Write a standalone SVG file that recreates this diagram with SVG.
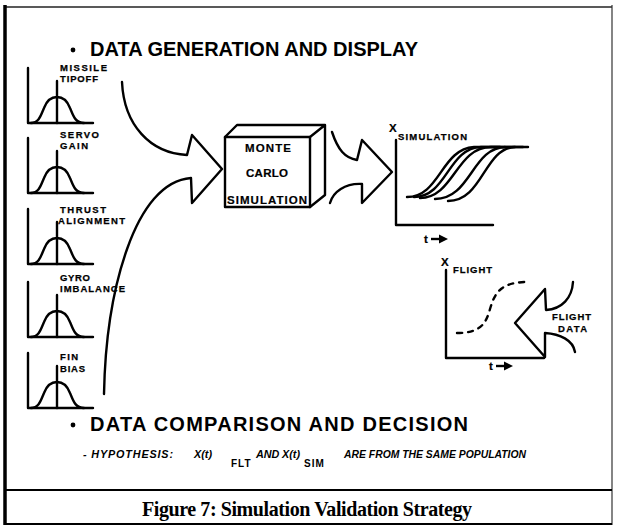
<svg xmlns="http://www.w3.org/2000/svg" xmlns:xlink="http://www.w3.org/1999/xlink" width="617" height="529" viewBox="0 0 617 529">
  <style>
    .ln { fill: none; stroke: #000; stroke-width: 2.4; stroke-linecap: round; stroke-linejoin: round; }
    .head { font-family: "Liberation Sans", Arial, sans-serif; font-weight: bold; font-size: 20px; fill: #000; }
    .lbl { font-family: "Liberation Sans", Arial, sans-serif; font-weight: bold; font-size: 9.5px; fill: #000; stroke: #000; stroke-width: 0.25; }
    .box { font-family: "Liberation Sans", Arial, sans-serif; font-weight: bold; font-size: 11.5px; fill: #000; stroke: #000; stroke-width: 0.2; }
    .hyp { font-family: "Liberation Sans", Arial, sans-serif; font-weight: bold; font-style: italic; font-size: 10.8px; fill: #000; }
    .sub { font-family: "Liberation Sans", Arial, sans-serif; font-weight: bold; font-size: 10px; fill: #000; letter-spacing: 1px; }
    .cap { font-family: "Liberation Serif", "Times New Roman", serif; font-weight: bold; font-size: 20px; fill: #000; }
  </style>
  <defs>
    <!-- probability density sketch: axes, bell curve and mean line (baseline at y=0) -->
    <g id="dist">
      <path class="ln" d="M28,-55 V0 H93"/>
      <path class="ln" d="M31,0 C39,0 41,-8 44,-15 C47,-23 51,-26 57,-26 C63,-26 67,-23 70,-15 C73,-8 75,0 84,0"/>
      <path class="ln" d="M57,-42 V0"/>
    </g>
    <!-- small "t" axis arrow -->
    <g id="tarrow">
      <text x="0" y="4" class="box" font-size="11">t</text>
      <path d="M7,0 H16" stroke="#000" stroke-width="2.4"/>
      <path d="M15,-4.5 L24,0 L15,4.5 Z" fill="#000"/>
    </g>
  </defs>

  <rect width="617" height="529" fill="#fff"/>

  <!-- frame -->
  <g id="frame">
    <path d="M5,7 H612" stroke="#222" stroke-width="1.5"/>
    <path d="M5,5 V525" stroke="#000" stroke-width="3.5"/>
    <path d="M612,5 V525" stroke="#333" stroke-width="1.2"/>
    <path d="M5,490 H612" stroke="#000" stroke-width="2"/>
    <path d="M5,524 H612" stroke="#000" stroke-width="2"/>
  </g>

  <!-- headings -->
  <g id="heading-generation">
    <circle cx="73" cy="50" r="2.4" fill="#000"/>
    <text x="90" y="56" class="head" textLength="328" lengthAdjust="spacing">DATA GENERATION AND DISPLAY</text>
  </g>
  <g id="heading-comparison">
    <circle cx="73" cy="425" r="2.4" fill="#000"/>
    <text x="90" y="431" class="head" textLength="378" lengthAdjust="spacing">DATA COMPARISON AND DECISION</text>
  </g>

  <!-- input distributions -->
  <g id="missile-tipoff">
    <use xlink:href="#dist" transform="translate(0,123)"/>
    <text x="60" y="71" class="lbl" textLength="47" lengthAdjust="spacing">MISSILE</text>
    <text x="60" y="82" class="lbl" textLength="38" lengthAdjust="spacing">TIPOFF</text>
  </g>
  <g id="servo-gain">
    <use xlink:href="#dist" transform="translate(0,193)"/>
    <text x="60" y="138" class="lbl" textLength="39" lengthAdjust="spacing">SERVO</text>
    <text x="60" y="149" class="lbl" textLength="28" lengthAdjust="spacing">GAIN</text>
  </g>
  <g id="thrust-alignment">
    <use xlink:href="#dist" transform="translate(0,264)"/>
    <text x="60" y="213" class="lbl" textLength="46" lengthAdjust="spacing">THRUST</text>
    <text x="58" y="224" class="lbl" textLength="67" lengthAdjust="spacing">ALIGNMENT</text>
  </g>
  <g id="gyro-imbalance">
    <use xlink:href="#dist" transform="translate(0,337)"/>
    <text x="60" y="281" class="lbl" textLength="30" lengthAdjust="spacing">GYRO</text>
    <text x="60" y="292" class="lbl" textLength="65" lengthAdjust="spacing">IMBALANCE</text>
  </g>
  <g id="fin-bias">
    <use xlink:href="#dist" transform="translate(0,408)"/>
    <text x="60" y="360" class="lbl" textLength="18" lengthAdjust="spacing">FIN</text>
    <text x="60" y="372" class="lbl" textLength="25" lengthAdjust="spacing">BIAS</text>
  </g>

  <!-- Monte Carlo simulation block -->
  <g id="monte-carlo">
    <path class="ln" d="M225,137 H310 V207 H225 Z" stroke-width="2.8"/>
    <path class="ln" d="M225,137 L237,125 H325 L310,137 M325,125 V195 L310,207"/>
    <text x="245" y="152" class="box" textLength="46" lengthAdjust="spacing">MONTE</text>
    <text x="246" y="177" class="box" textLength="42" lengthAdjust="spacing">CARLO</text>
    <text x="227" y="204" class="box" textLength="80" lengthAdjust="spacing">SIMULATION</text>
  </g>

  <!-- simulated trajectories -->
  <g id="simulation-plot">
    <path class="ln" d="M396,140 V225 H493"/>
    <text x="389" y="132" class="box" font-size="10.5">X</text>
    <text x="398" y="140" class="lbl" textLength="69" lengthAdjust="spacing">SIMULATION</text>
    <g class="ln">
      <path d="M407,197 C440,197 441,149 474,147 H500"/>
      <path d="M414,197 C447,197 448,148 481,147 H505"/>
      <path d="M420,198 C454,198 456,147 491,147 H515"/>
      <path d="M435,199 C471,199 472,147 506,147 H523"/>
      <path d="M448,201 C483,201 484,148 515,147 H528"/>
    </g>
    <use xlink:href="#tarrow" transform="translate(424,239)"/>
  </g>

  <!-- flight data trajectory -->
  <g id="flight-plot">
    <path class="ln" d="M446,270 V358 H544"/>
    <text x="441" y="266" class="box" font-size="10.5">X</text>
    <text x="453" y="273" class="lbl" textLength="39" lengthAdjust="spacing">FLIGHT</text>
    <path class="ln" stroke-width="2.8" stroke-dasharray="5,6" d="M457,333 C480,333 486,324 490,309 C495,292 501,283 525,282"/>
    <use xlink:href="#tarrow" transform="translate(489,366)"/>
  </g>

  <g id="flight-data">
    <text x="552" y="320" class="lbl" textLength="39" lengthAdjust="spacing">FLIGHT</text>
    <text x="558" y="332" class="lbl" textLength="29" lengthAdjust="spacing">DATA</text>
  </g>

  <!-- block arrows -->
  <g id="connectors" class="ln">
    <path d="M122,82 C124,125 150,153 187,155 L192,135 L222,169 L192,203 L191,178 C135,182 106,290 104,394"/>
    <path d="M332,132 C338,150 345,158 357,160 L362,140 L392,172 L362,203 L362,184 C345,183 333,192 330,203"/>
    <path d="M573,282 C572,298 562,309 546,310 L545,289 L515,323 L545,357 L545,333 C560,334 573,340 575,352"/>
  </g>

  <!-- hypothesis statement -->
  <g id="hypothesis">
    <text x="83" y="458" class="hyp" textLength="90" lengthAdjust="spacing">- HYPOTHESIS:</text>
    <text x="194" y="458" class="hyp">X(t)</text>
    <text x="231" y="467" class="sub">FLT</text>
    <text x="256" y="458" class="hyp">AND</text>
    <text x="282" y="458" class="hyp">X(t)</text>
    <text x="304" y="467" class="sub">SIM</text>
    <text x="344" y="458" class="hyp" textLength="182" lengthAdjust="spacingAndGlyphs">ARE FROM THE SAME POPULATION</text>
  </g>

  <!-- caption -->
  <g id="caption">
    <text x="142" y="516" class="cap" textLength="330" lengthAdjust="spacing">Figure 7:  Simulation Validation Strategy</text>
  </g>
</svg>
